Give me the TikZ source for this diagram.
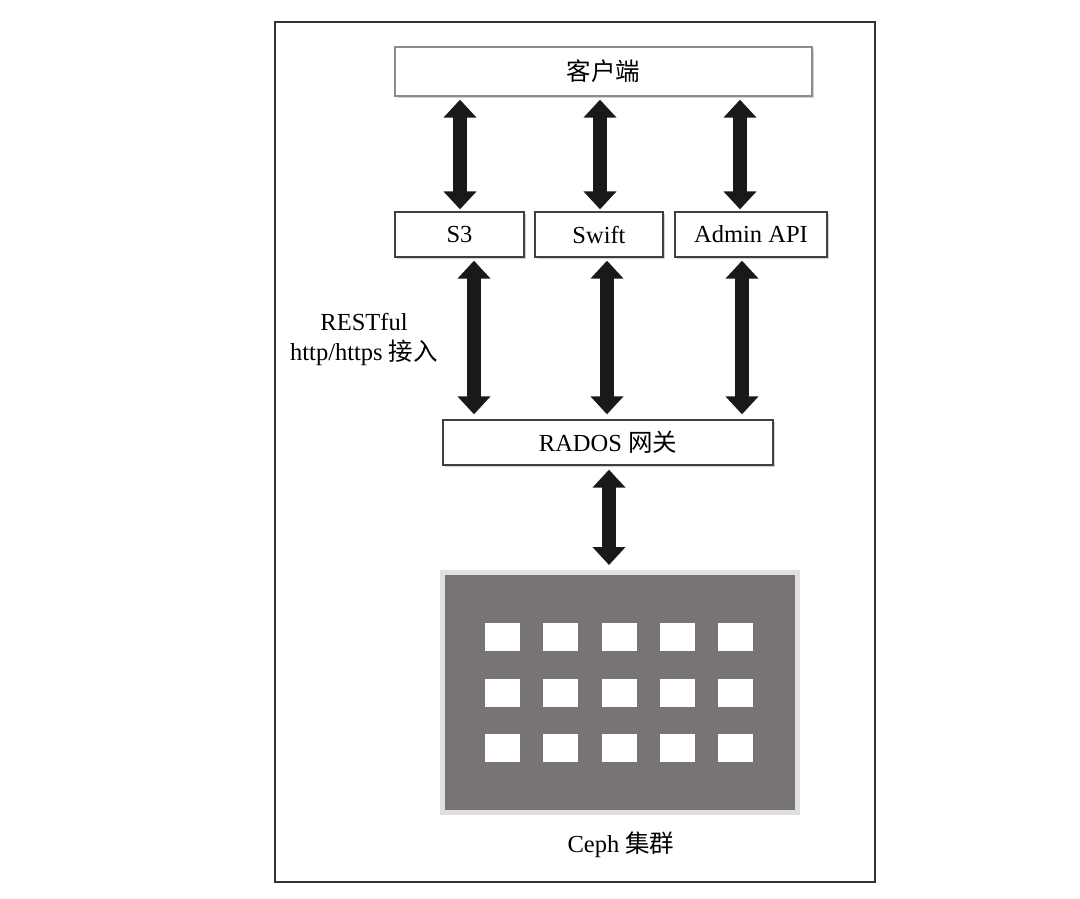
\documentclass[tikz,border=0pt]{standalone}
\usepackage{fontspec}
\setmainfont{Liberation Serif}
\newfontfamily\cjk{Noto Sans CJK SC}
\usetikzlibrary{arrows.meta,shadows,calc}
\begin{document}
\begin{tikzpicture}[x=1pt,y=1pt,
  box/.style={draw=black!75, line width=1.3pt, fill=white, inner sep=0pt,
    drop shadow={opacity=0.35, shadow xshift=1.5pt, shadow yshift=-1.5pt},
    font=\fontsize{24.5}{28}\selectfont},
  clientbox/.style={box, draw=black!45},
  bigarrow/.style={line width=14pt, black!90,
    {Triangle[width=32pt,length=18pt]}-{Triangle[width=32pt,length=18pt]}},
  lbl/.style={font=\fontsize{24.5}{28}\selectfont, inner sep=0pt, align=center}
]
\useasboundingbox (0,0) rectangle (1080,-898);
\fill[white] (0,0) rectangle (1080,-898);
\draw[black!80, line width=2pt] (275,-22) rectangle (875,-882);

\node[clientbox, minimum width=417pt, minimum height=49pt] (client) at (603.5,-71.5) {\cjk 客户端};
\node[box, minimum width=129pt, minimum height=45pt] (s3) at (459.5,-234.5) {S3};
\node[box, minimum width=128pt, minimum height=45pt] (swift) at (599,-234.5) {Swift};
\node[box, minimum width=152pt, minimum height=45pt] (admin) at (751,-234.5) {Admin API};
\node[box, minimum width=330pt, minimum height=45pt] (rados) at (608,-442.5) {RADOS {\cjk 网关}};

% cluster
\node[draw=black!12, line width=5pt, fill={rgb,255:red,120;green,116;blue,117}, minimum width=355pt, minimum height=240pt, inner sep=0pt] (ceph) at (620,-692.5) {};
\foreach \cx in {502.5,560.5,619.5,677.5,735.5}{
  \foreach \cy in {-637,-692.5,-747.5}{
    \fill[white] (\cx-17.5,\cy-14) rectangle (\cx+17.5,\cy+14);
  }
}
\node[lbl] (cephlabel) at (621,-845) {Ceph {\cjk 集群}};

\node[lbl] (rest) at (364,-322) {RESTful};
\node[lbl] (http) at (364,-353) {http/https {\cjk 接入}};

% arrows top
\draw[bigarrow, shorten <=3pt, shorten >=2pt] ([xshift=0.5pt]s3.north |- client.south) -- ([xshift=0.5pt]s3.north);
\draw[bigarrow, shorten <=3pt, shorten >=2pt] ([xshift=1pt]swift.north |- client.south) -- ([xshift=1pt]swift.north);
\draw[bigarrow, shorten <=3pt, shorten >=2pt] ([xshift=-11pt]admin.north |- client.south) -- ([xshift=-11pt]admin.north);
% arrows middle
\draw[bigarrow, shorten <=3pt, shorten >=5pt] ([xshift=14.5pt]s3.south) -- ([xshift=14.5pt]s3.south |- rados.north);
\draw[bigarrow, shorten <=3pt, shorten >=5pt] ([xshift=8pt]swift.south) -- ([xshift=8pt]swift.south |- rados.north);
\draw[bigarrow, shorten <=3pt, shorten >=5pt] ([xshift=-9pt]admin.south) -- ([xshift=-9pt]admin.south |- rados.north);
% arrow bottom
\draw[bigarrow, shorten <=4pt, shorten >=5pt] ([xshift=1pt]rados.south) -- ([xshift=1pt]rados.south |- ceph.north);
\end{tikzpicture}
\end{document}
